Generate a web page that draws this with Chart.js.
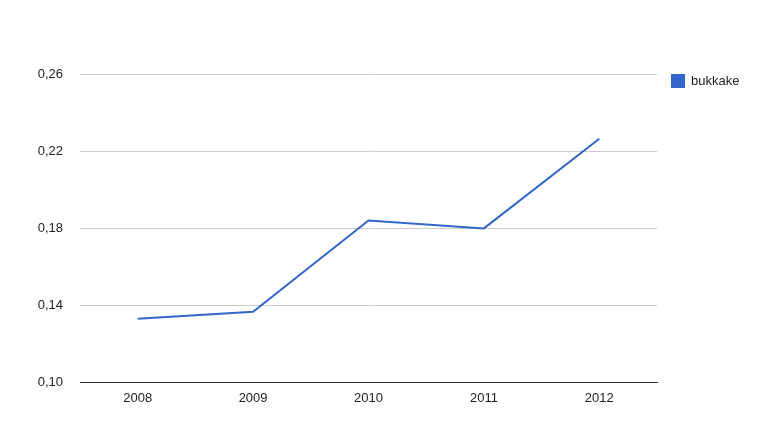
<!DOCTYPE html>
<html>
<head>
<meta charset="utf-8">
<script src="https://cdn.jsdelivr.net/npm/chart.js@4"></script>
<style>
  html, body { margin: 0; padding: 0; background: #fff; }
  #wrap { position: relative; width: 783px; height: 440px; }
  #legend { position: absolute; left: 671px; top: 74px; font: 13px "Liberation Sans", Arial, sans-serif; color: #222; white-space: nowrap; }
  #legend .box { display: inline-block; width: 14px; height: 14px; background: #3366cc; vertical-align: top; margin-right: 6px; }
  #legend span.label { display: inline-block; line-height: 14px; vertical-align: top; }
</style>
</head>
<body>
<div id="wrap">
  <canvas id="chart" width="783" height="440"></canvas>
  <div id="legend"><span class="box"></span><span class="label">bukkake</span></div>
</div>
<script>
// données du graphique
const years = ['2008', '2009', '2010', '2011', '2012'];
const bukkake = [0.1329, 0.1365, 0.1839, 0.1798, 0.2264];
const yTicks = [0.10, 0.14, 0.18, 0.22, 0.26];

const fontSpec = { family: '"Liberation Sans", Arial, sans-serif', size: 13 };

const ctx = document.getElementById('chart').getContext('2d');
new Chart(ctx, {
  type: 'line',
  data: {
    labels: years,
    datasets: [{
      label: 'bukkake',
      data: bukkake,
      borderColor: '#3366cc',
      backgroundColor: '#3366cc',
      borderWidth: 2,
      pointRadius: 0,
      tension: 0
    }]
  },
  options: {
    responsive: false,
    animation: false,
    layout: { padding: { top: 74, right: 126, bottom: 0, left: 0 } },
    plugins: { legend: { display: false }, tooltip: { enabled: false } },
    scales: {
      x: {
        offset: true,
        grid: { display: false, drawTicks: false },
        border: { display: true, color: '#333', width: 1 },
        ticks: { color: '#222', font: fontSpec, padding: 9, maxRotation: 0 },
        afterFit: function (scale) { scale.height = 58; }
      },
      y: {
        min: 0.10,
        max: 0.26,
        afterBuildTicks: function (scale) {
          scale.ticks = yTicks.map(v => ({ value: v }));
        },
        grid: { color: '#cccccc', drawTicks: false },
        border: { display: false },
        ticks: {
          color: '#222',
          font: fontSpec,
          padding: 17,
          callback: v => v.toFixed(2).replace('.', ',')
        },
        afterFit: function (scale) { scale.width = 80; }
      }
    }
  }
});
</script>
</body>
</html>
